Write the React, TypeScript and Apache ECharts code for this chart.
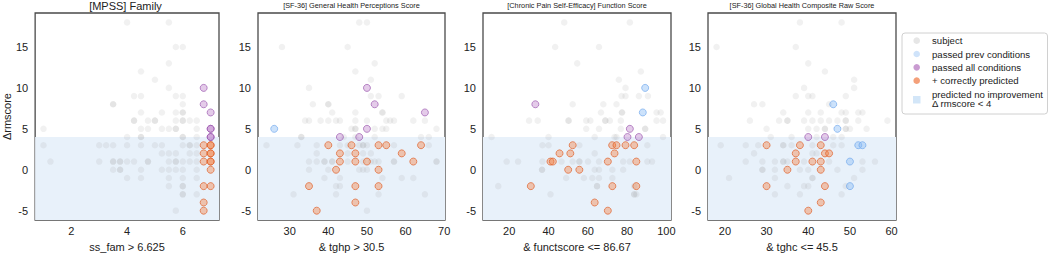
import React, { useEffect, useRef } from "react";
import * as echarts from "echarts";

// ---- Panel titles / axis names / ticks ----
const titles = [
  "[MPSS] Family",
  "[SF-36] General Health Perceptions Score",
  "[Chronic Pain Self-Efficacy] Function Score",
  "[SF-36] Global Health Composite Raw Score",
];
const xNames = ["ss_fam > 6.625", "& tghp > 30.5", "& functscore <= 86.67", "& tghc <= 45.5"];
const xRanges = [
  [0.7, 7.3],
  [21.8, 70.2],
  [6.65, 102.35],
  [15.95, 61.05],
];
const xTicks = [
  [2, 4, 6],
  [30, 40, 50, 60, 70],
  [20, 40, 60, 80, 100],
  [20, 30, 40, 50, 60],
];
const yRange = [-6.15, 19.15];
const yTicks = [-5, 0, 5, 10, 15];
const threshold = 4;

// ---- Panel 1: ss_fam ----
const famSubject = [
  [4, 18], [5.5, 18], [5.75, 15], [6, 15], [5.5, 13], [4.5, 12], [5, 11], [5.5, 10],
  [4.25, 9], [4.5, 9], [5.75, 9], [6, 9], [3.5, 8], [3.5, 8], [6, 8],
  [4.5, 7], [5.25, 7], [5.75, 7], [6, 7], [6, 7],
  [4.25, 6], [4.25, 6], [4.75, 6], [5, 6], [5, 6], [5.75, 6], [6, 6], [6, 6], [6.25, 6], [6.5, 6],
  [1, 5], [4.5, 5], [4.75, 5], [5.25, 5], [5.5, 5], [5.75, 5], [5.75, 5], [6.5, 5],
  [4, 4], [4.5, 4], [4.5, 4], [6, 4], [6, 4], [6.5, 4],
  [1, 3], [3, 3], [3.25, 3], [3.5, 3], [4, 3], [4.5, 3], [5, 3], [5.25, 3], [6, 3], [6.25, 3], [6.25, 3], [6.5, 3],
  [5.25, 2], [5.5, 2], [5.75, 2], [6.25, 2], [6.5, 2],
  [1.25, 1], [3, 1], [3.5, 1], [3.5, 1], [3.75, 1], [3.75, 1], [4, 1], [4.25, 1], [4.75, 1], [4.75, 1],
  [5.5, 1], [5.75, 1], [5.75, 1], [6, 1], [6.25, 1], [6.5, 1],
  [3.5, 0], [3.75, 0], [3.75, 0], [4.5, 0], [5.25, 0], [5.5, 0], [5.75, 0], [6, 0], [6.5, 0],
  [4, -1], [4.5, -1], [5.5, -1], [6, -1], [6.5, -1],
  [5.5, -2], [6, -2], [6, -2], [6, -3], [6, -3], [6.5, -3], [5.75, -5],
];
const famPrev: number[][] = [];
const famAll = [[6.75, 10], [6.75, 8], [7, 7], [7, 5], [7, 5], [7, 4], [7, 4]];
const famCorrect = [
  [6.75, 3], [7, 3], [7, 3], [6.75, 2], [7, 2], [7, 2], [6.75, 1], [7, 1], [7, 1], [7, 0],
  [6.75, -2], [7, -2], [6.75, -4], [6.75, -5],
];

// ---- Panel 2: tghp ----
const tghpSubject = [
  [48, 18], [50, 18], [28, 15], [45, 15], [52, 13], [47, 12], [51, 11], [35, 10],
  [51, 9], [53, 9], [59, 9], [36, 8], [40, 8], [40, 8],
  [41, 7], [47, 7], [54, 7], [54, 7],
  [34, 6], [35, 6], [38, 6], [40, 6], [42, 6], [43, 6], [47, 6], [50, 6], [55, 6], [56, 6], [57, 6], [62, 6], [65, 6],
  [46, 5], [47, 5], [47, 5], [52, 5], [54, 5], [55, 5], [68, 5],
  [33, 4], [33, 4], [44, 4], [47, 4], [52, 4], [64, 4], [66, 4],
  [24, 3], [32, 3], [37, 3], [43, 3], [45, 3], [48, 3], [49, 3], [49, 3], [50, 3], [57, 3], [66, 3],
  [37, 2], [45, 2], [49, 2], [51, 2],
  [35, 1], [37, 1], [39, 1], [39, 1], [41, 1], [41, 1], [45, 1], [49, 1], [51, 1], [52, 1], [53, 1],
  [57, 1], [57, 1], [68, 1], [68, 1],
  [35, 0], [40, 0], [48, 0], [49, 0], [50, 0],
  [39, -1], [43, -1], [54, -1], [59, -1], [62, -1],
  [42, -2], [43, -2], [31, -3], [42, -3], [53, -3], [65, -3], [50, -5],
];
const tghpPrev = [[26, 5]];
const tghpAll = [[50, 10], [52, 8], [65, 7], [50, 5], [43, 4], [48, 4]];
const tghpCorrect = [
  [40, 3], [46, 3], [53, 3], [55, 3], [64, 3], [43, 2], [47, 2], [59, 2],
  [43, 1], [47, 1], [50, 1], [62, 1], [42, 0], [53, 0],
  [35, -2], [47, -2], [53, -2], [47, -4], [37, -5],
];

// ---- Panel 3: functscore ----
const functSubject = [
  [48, 18], [81.4, 18], [43.4, 15], [65.7, 15], [54.6, 13], [87, 12], [75.8, 11], [79.2, 10],
  [77.2, 9], [79.2, 9], [86, 9], [90.6, 9], [52.3, 8], [67.9, 8], [74.6, 8],
  [66.7, 7], [77.4, 7], [77.4, 7], [95, 7], [97.1, 7],
  [30.1, 6], [34.5, 6], [50.2, 6], [50.2, 6], [59.2, 6], [61.3, 6], [68.9, 6], [68.9, 6], [71.2, 6],
  [76.8, 6], [95, 6], [98.3, 6],
  [59.2, 5], [65.7, 5], [76.8, 5], [89.2, 5], [89.2, 5],
  [11, 4], [40, 4], [63.5, 4], [73.6, 4], [74.6, 4], [98.3, 4],
  [36.9, 3], [40, 3], [55.7, 3], [90.3, 3], [63.5, 2],
  [18.7, 1], [24.5, 1], [36.9, 1], [46.6, 1], [52.3, 1], [55.7, 1], [55.7, 1], [60.1, 1], [65.7, 1],
  [78, 1], [81.4, 1], [90.3, 1], [92.7, 1],
  [36.7, 0], [36.7, 0], [63.5, 0], [65.7, 0], [72.5, 0], [78, 0],
  [49, -1], [58, -1], [62.3, -1], [65.7, -1], [72.5, -1],
  [14.4, -2], [64.7, -2], [64.7, -2], [83.6, -2],
  [41, -3], [83.6, -3], [83.6, -3], [84.7, -3],
];
const functPrev = [[89.2, 10], [88, 7]];
const functAll = [[33.3, 8], [81.4, 5], [80.2, 4], [86, 4]];
const functCorrect = [
  [52.3, 3], [72.4, 3], [74.6, 3], [79.2, 3], [83.6, 3], [45.6, 2], [51.1, 2], [73.6, 2],
  [41, 1], [42.2, 1], [70.2, 1], [84.7, 1], [50, 0], [55.7, 0],
  [31, -2], [72.5, -2], [84.7, -2], [63.5, -4], [70.2, -5],
];

// ---- Panel 4: tghc ----
const tghcSubject = [
  [38, 18], [48, 18], [18, 15], [37, 15], [40, 13], [44, 12], [51, 11], [39, 10], [51, 10],
  [37, 9], [40, 9], [41, 9], [49, 9], [27, 8], [29, 8], [45, 8],
  [34, 7], [40, 7], [43, 7], [48, 7], [49, 7], [52, 7], [53, 7],
  [26, 6], [33, 6], [35, 6], [35, 6], [39, 6], [41, 6], [43, 6], [45, 6], [47, 6], [49, 6], [49, 6], [52, 6], [59, 6],
  [30, 5], [40, 5], [42, 5], [44, 5], [44, 5], [49, 5], [49, 5], [50, 5], [54, 5],
  [31, 4], [36, 4], [42, 4], [46, 4], [48, 4],
  [19, 3], [25, 3], [28, 3], [34, 3], [34, 3], [36, 3], [41, 3], [46, 3], [48, 3],
  [27, 2], [41, 2], [42, 2],
  [25, 1], [29, 1], [32, 1], [34, 1], [34, 1], [35, 1], [39, 1], [45, 1], [53, 1], [56, 1],
  [29, 0], [29, 0], [32, 0], [38, 0], [40, 0], [47, 0], [53, 0],
  [21, -1], [32, -1], [41, -1], [41, -1], [51, -1],
  [35, -2], [39, -2], [40, -2], [49, -2], [32, -3], [38, -3], [48, -3],
];
const tghcPrev = [[46, 8], [47, 5], [52, 3], [53, 3], [50, 1], [50, -2]];
const tghcAll = [[40, 4], [44, 4]];
const tghcCorrect = [
  [30, 3], [38, 3], [43, 3], [37, 2], [44, 2], [45, 2], [37, 1], [41, 1], [43, 1],
  [35, 0], [43, 0], [30, -2], [44, -2], [43, -4], [40, -5],
];

const panels = [
  { subject: famSubject, prev: famPrev, all: famAll, correct: famCorrect },
  { subject: tghpSubject, prev: tghpPrev, all: tghpAll, correct: tghpCorrect },
  { subject: functSubject, prev: functPrev, all: functAll, correct: functCorrect },
  { subject: tghcSubject, prev: tghcPrev, all: tghcAll, correct: tghcCorrect },
];

const legendItems = [
  "subject",
  "passed prev conditions",
  "passed all conditions",
  "+ correctly predicted",
];

const FONT = "'Liberation Sans', Arial, 'DejaVu Sans', sans-serif";

export default function App() {
  const ref = useRef<HTMLDivElement>(null);

  useEffect(() => {
    if (!ref.current) return;
    const chart = echarts.init(ref.current, null, { renderer: "svg" });

    const gridLefts = [32, 258, 483, 708];
    const gridWidths = [187, 187, 188, 188];
    const grid = gridLefts.map((l, i) => ({
      left: l,
      top: 13,
      width: gridWidths[i],
      height: 215,
      show: true,
      borderColor: "#4a4a4a",
      borderWidth: 1.3,
      backgroundColor: "transparent",
    }));

    const xAxis = panels.map((_, i) => ({
      type: "value",
      gridIndex: i,
      min: xRanges[i][0],
      max: xRanges[i][1],
      name: xNames[i],
      nameLocation: "middle",
      nameGap: 17,
      nameTextStyle: { fontSize: 11, color: "#222", fontFamily: FONT },
      axisLine: { show: false },
      axisTick: { show: false },
      splitLine: { show: false },
      axisLabel: {
        customValues: xTicks[i],
        fontSize: 11,
        color: "#222",
        fontFamily: FONT,
        margin: 5,
        showMinLabel: true,
        showMaxLabel: true,
      },
    }));

    const yAxis = panels.map((_, i) => ({
      type: "value",
      gridIndex: i,
      min: yRange[0],
      max: yRange[1],
      name: i === 0 ? "\u0394rmscore" : "",
      nameLocation: "middle",
      nameGap: 19,
      nameTextStyle: { fontSize: 11, color: "#222", fontFamily: FONT },
      axisLine: { show: false },
      axisTick: { show: false },
      splitLine: { show: false },
      axisLabel: {
        customValues: yTicks,
        fontSize: 11,
        color: "#222",
        fontFamily: FONT,
        margin: 7,
      },
    }));

    const series: any[] = [];
    panels.forEach((p, i) => {
      series.push({
        type: "scatter",
        xAxisIndex: i,
        yAxisIndex: i,
        data: [],
        z: 1,
        silent: true,
        markArea: {
          silent: true,
          itemStyle: { color: "#e8f1fa" },
          data: [[{ xAxis: xRanges[i][0], yAxis: yRange[0] }, { xAxis: xRanges[i][1], yAxis: threshold }]],
        },
      });
      series.push({
        type: "scatter",
        name: "subject",
        xAxisIndex: i,
        yAxisIndex: i,
        data: p.subject,
        symbolSize: 6.5,
        z: 3,
        itemStyle: { color: "rgba(150,150,150,0.16)" },
      });
      series.push({
        type: "scatter",
        name: "passed prev conditions",
        xAxisIndex: i,
        yAxisIndex: i,
        data: p.prev,
        symbolSize: 7,
        z: 4,
        itemStyle: { color: "rgba(140,190,245,0.55)", borderColor: "rgba(100,160,235,0.75)", borderWidth: 1 },
      });
      series.push({
        type: "scatter",
        name: "passed all conditions",
        xAxisIndex: i,
        yAxisIndex: i,
        data: p.all,
        symbolSize: 7,
        z: 5,
        itemStyle: { color: "rgba(180,110,195,0.45)", borderColor: "rgba(150,80,170,0.8)", borderWidth: 1 },
      });
      series.push({
        type: "scatter",
        name: "+ correctly predicted",
        xAxisIndex: i,
        yAxisIndex: i,
        data: p.correct,
        symbolSize: 7,
        z: 6,
        itemStyle: { color: "rgba(245,125,60,0.5)", borderColor: "rgba(222,95,40,0.85)", borderWidth: 1 },
      });
    });

    const title = titles.map((t, i) => ({
      text: t,
      left: gridLefts[i] + gridWidths[i] / 2,
      top: i === 0 ? 0 : 2,
      textAlign: "center",
      padding: 0,
      textStyle: {
        fontSize: i === 0 ? 11 : 7.3,
        fontWeight: "normal",
        color: "#222",
        fontFamily: FONT,
      },
    }));

    const legendRowsY = [40.7, 54, 67.3, 80.7];
    const legendColors = ["#e6e6e6", "#cfe3fa", "#c99bd1", "#f4a07a"];
    const graphic: any[] = [
      {
        type: "rect",
        shape: { x: 902, y: 33, width: 145.5, height: 81, r: 3 },
        style: { fill: "#fff", stroke: "#d0d0d0", lineWidth: 1 },
        z: 10,
      },
    ];
    legendItems.forEach((t, k) => {
      graphic.push({
        type: "circle",
        shape: { cx: 916.7, cy: legendRowsY[k], r: 3.3 },
        style: { fill: legendColors[k] },
        z: 11,
      });
      graphic.push({
        type: "text",
        x: 932,
        y: legendRowsY[k],
        style: { text: t, fontSize: 9.6, fontFamily: FONT, fill: "#222", textVerticalAlign: "middle" },
        z: 11,
      });
    });
    graphic.push({
      type: "rect",
      shape: { x: 913, y: 96, width: 7.5, height: 7.5 },
      style: { fill: "#d3e6f8" },
      z: 11,
    });
    graphic.push({
      type: "text",
      x: 932,
      y: 94,
      style: { text: "predicted no improvement", fontSize: 9.6, fontFamily: FONT, fill: "#222", textVerticalAlign: "middle" },
      z: 11,
    });
    graphic.push({
      type: "text",
      x: 932,
      y: 103,
      style: { text: "\u0394 rmscore < 4", fontSize: 9.6, fontFamily: FONT, fill: "#222", textVerticalAlign: "middle" },
      z: 11,
    });

    chart.setOption({
      animation: false,
      backgroundColor: "#ffffff",
      title,
      grid,
      xAxis,
      yAxis,
      series,
      graphic,
    });

    return () => chart.dispose();
  }, []);

  return (
    <div
      ref={ref}
      style={{ position: "fixed", left: 0, top: 0, width: 1049, height: 257 }}
    />
  );
}
